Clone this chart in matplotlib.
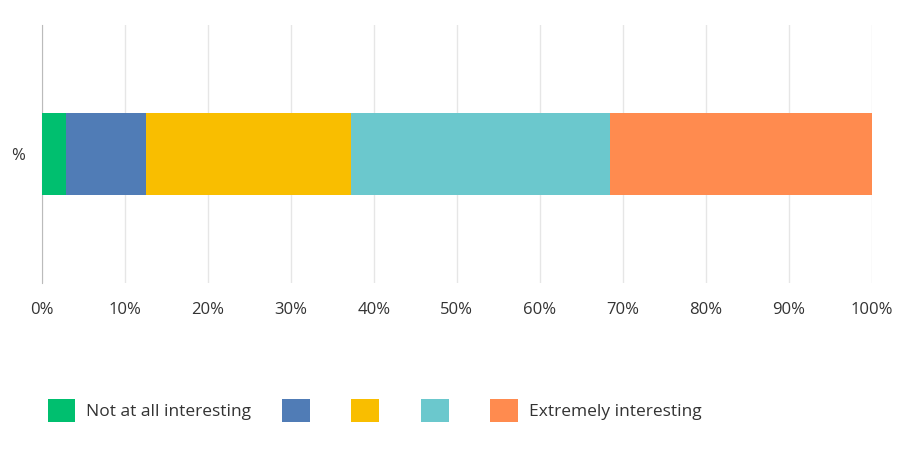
import matplotlib
matplotlib.use("agg")
import matplotlib.pyplot as plt
from matplotlib.patches import Patch

plt.rcParams["font.family"] = ["Open Sans", "DejaVu Sans"]

category = "%"
labels = ["Not at all interesting", "", "", "", "Extremely interesting"]
values = [2.9, 9.6, 24.7, 31.3, 31.5]
colors = ["#00bf6f", "#507cb6", "#f9be00", "#6bc8cd", "#ff8b4f"]
ticks = [0, 10, 20, 30, 40, 50, 60, 70, 80, 90, 100]

fig = plt.figure(figsize=(9.12, 4.51), dpi=100)
ax = fig.add_axes([0.046, 0.3725, 0.910, 0.5725])

left = 0
for v, c in zip(values, colors):
    ax.barh([0], [v], left=left, color=c, height=0.32, zorder=3)
    left += v

ax.set_xlim(0, 100)
ax.set_ylim(-0.5, 0.5)
ax.set_xticks(ticks)
ax.set_xticklabels([f"{t}%" for t in ticks], fontsize=12, color="#333333")
ax.set_yticks([0])
ax.set_yticklabels([category], fontsize=12, color="#333333")
ax.grid(axis="x", color="#e6e6e6", lw=1, zorder=0)
for s in ["top", "right", "bottom"]:
    ax.spines[s].set_visible(False)
ax.spines["left"].set_color("#bbbbbb")
ax.tick_params(length=0, pad=14)
ax.tick_params(axis="y", pad=12)

handles = [Patch(facecolor=c, edgecolor="none") for c in colors]
fig.legend(handles, labels, loc="center left", bbox_to_anchor=(0.035, 0.09),
           ncol=5, frameon=False, fontsize=12.5, handlelength=1.6, handleheight=1.6,
           columnspacing=1.8, handletextpad=0.6, labelcolor="#333333")

fig.savefig("out.png", dpi=100)
